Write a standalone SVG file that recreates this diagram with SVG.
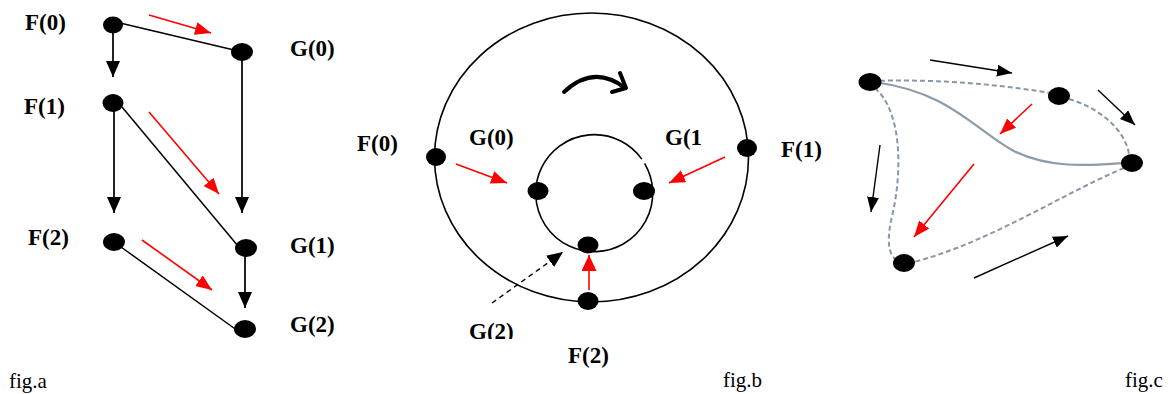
<svg xmlns="http://www.w3.org/2000/svg" width="1172" height="394" viewBox="0 0 1172 394">
<defs>
<style>
.lbl{font-family:"Liberation Serif","Times New Roman",serif;font-weight:bold;font-size:23px;fill:#000}
.cap{font-family:"Liberation Serif","Times New Roman",serif;font-size:21px;fill:#000}
.blk{stroke:#000;stroke-width:1.5;fill:none}
.vb{stroke:#222;stroke-width:2;fill:none}
.red{stroke:#f00;stroke-width:1.6;fill:none}
.ring{stroke:#000;stroke-width:1.6;fill:none}
.dash{stroke:#8797a6;stroke-width:2;stroke-dasharray:5 3;fill:none}
.solid{stroke:#8c9cab;stroke-width:2.2;fill:none}
.node{fill:#000}
</style>
<clipPath id="clipG2"><rect x="440" y="300" width="120" height="39"/></clipPath>
<marker id="hb" markerUnits="userSpaceOnUse" markerWidth="16" markerHeight="14" refX="16" refY="7" orient="auto"><path d="M0,0 L16,7 L0,14 Z" fill="#000"/></marker>
<marker id="hr" markerUnits="userSpaceOnUse" markerWidth="16" markerHeight="13" refX="16" refY="6.5" orient="auto"><path d="M0,0 L16,6.5 L0,13 Z" fill="#f00"/></marker>
<marker id="hr2" markerUnits="userSpaceOnUse" markerWidth="16" markerHeight="15" refX="16" refY="7.5" orient="auto"><path d="M0,0 L16,7.5 L0,15 Z" fill="#f00"/></marker>
<marker id="hc" markerUnits="userSpaceOnUse" markerWidth="15" markerHeight="12" refX="15" refY="6" orient="auto"><path d="M0,0 L15,6 L0,12 Z" fill="#000"/></marker>
</defs>

<!-- fig a connectors -->
<g id="connectors-a">
<line class="blk" x1="120" y1="23" x2="234" y2="50"/>
<line class="vb" x1="113" y1="32" x2="113" y2="77" marker-end="url(#hb)"/>
<line class="vb" x1="242" y1="60" x2="242" y2="213" marker-end="url(#hb)"/>
<line class="vb" x1="114" y1="110" x2="114" y2="213" marker-end="url(#hb)"/>
<line class="blk" x1="122" y1="107" x2="238" y2="246"/>
<line class="vb" x1="245" y1="255" x2="245" y2="308" marker-end="url(#hb)"/>
<line class="blk" x1="121" y1="247" x2="238" y2="331"/>
<line class="red" x1="149" y1="15" x2="211" y2="33" marker-end="url(#hr)"/>
<line class="red" x1="149" y1="112" x2="219" y2="194" marker-end="url(#hr)"/>
<line class="red" x1="142" y1="240" x2="212" y2="290" marker-end="url(#hr)"/>
</g>
<g id="a-F0"><ellipse class="node" cx="113" cy="25" rx="10" ry="8.5"/><text class="lbl" x="25" y="30">F(0)</text></g>
<g id="a-G0"><ellipse class="node" cx="242" cy="52" rx="11" ry="9"/><text class="lbl" x="290" y="56">G(0)</text></g>
<g id="a-F1"><ellipse class="node" cx="113" cy="103" rx="10.5" ry="9"/><text class="lbl" x="24" y="114">F(1)</text></g>
<g id="a-F2"><ellipse class="node" cx="114" cy="242" rx="11" ry="9"/><text class="lbl" x="28" y="245">F(2)</text></g>
<g id="a-G1"><ellipse class="node" cx="246" cy="248" rx="11" ry="9"/><text class="lbl" x="290" y="253">G(1)</text></g>
<g id="a-G2"><ellipse class="node" cx="245" cy="329" rx="11" ry="9"/><text class="lbl" x="290" y="332">G(2)</text></g>
<text class="cap" x="9" y="388">fig.a</text>

<!-- fig b -->
<g id="rings">
<ellipse class="ring" cx="591.5" cy="157.5" rx="157" ry="144.5"/>
<path class="ring" d="M 641.8 159.1 A 58.5 58.5 0 1 0 644.6 163.4"/>
</g>
<g id="connectors-b">
<path d="M 564 92 Q 594 64 625 88" stroke="#000" stroke-width="4" fill="none" stroke-linecap="round"/>
<path d="M 620 73 L 626 88 L 612 92" stroke="#000" stroke-width="4" fill="none" stroke-linecap="round" stroke-linejoin="round"/>
<line class="red" x1="456" y1="164" x2="507" y2="183" marker-end="url(#hr)"/>
<line class="red" x1="725" y1="157" x2="669" y2="183" marker-end="url(#hr)"/>
<line class="red" x1="589" y1="290" x2="589" y2="255" marker-end="url(#hr2)"/>
<line x1="492" y1="303" x2="563" y2="252" stroke="#000" stroke-width="1.4" stroke-dasharray="5 4" marker-end="url(#hb)"/>
</g>
<g id="b-F0"><ellipse class="node" cx="436" cy="157" rx="10" ry="9"/><text class="lbl" x="357" y="151">F(0)</text></g>
<g id="b-F1"><ellipse class="node" cx="747" cy="148" rx="10" ry="9"/><text class="lbl" x="781" y="157">F(1)</text></g>
<g id="b-G0"><ellipse class="node" cx="538" cy="191" rx="10.5" ry="9"/><text class="lbl" x="469" y="145">G(0)</text></g>
<g id="b-G1"><ellipse class="node" cx="644" cy="191" rx="11" ry="9"/><text class="lbl" x="665" y="145">G(1</text></g>
<g id="b-G2"><ellipse class="node" cx="588" cy="245" rx="10.5" ry="8.5"/><text class="lbl" x="469" y="339" clip-path="url(#clipG2)">G(2)</text></g>
<g id="b-F2"><ellipse class="node" cx="588" cy="301" rx="10.5" ry="9"/><text class="lbl" x="568" y="363">F(2)</text></g>
<text class="cap" x="723" y="387">fig.b</text>

<!-- fig c -->
<g id="connectors-c">
<path class="dash" d="M 872 81 Q 960 78 1050 93"/>
<path class="dash" d="M 1069 99 C 1100 108 1125 130 1129 154"/>
<path class="dash" d="M 1124 168 C 1060 195 990 242 914 262"/>
<path class="dash" d="M 875 88 C 902 112 902 170 893 212 C 886 240 888 255 897 260"/>
<path class="solid" d="M 874 82 C 950 92 975 130 1012 150 C 1050 170 1095 165 1124 163"/>
<line x1="930" y1="60" x2="1012" y2="73" stroke="#000" stroke-width="1.4" marker-end="url(#hc)"/>
<line x1="1098" y1="90" x2="1135" y2="125" stroke="#000" stroke-width="1.4" marker-end="url(#hc)"/>
<line x1="880" y1="145" x2="871" y2="212" stroke="#000" stroke-width="1.4" marker-end="url(#hc)"/>
<line x1="974" y1="278" x2="1068" y2="236" stroke="#000" stroke-width="1.4" marker-end="url(#hc)"/>
<line class="red" x1="1032" y1="104" x2="1000" y2="134" marker-end="url(#hr)"/>
<line class="red" x1="974" y1="164" x2="914" y2="237" marker-end="url(#hr)"/>
</g>
<g id="c-n1"><ellipse class="node" cx="870" cy="82" rx="11.5" ry="9"/></g>
<g id="c-n2"><ellipse class="node" cx="1059" cy="96" rx="11" ry="9"/></g>
<g id="c-n3"><ellipse class="node" cx="1132" cy="163" rx="11" ry="9"/></g>
<g id="c-n4"><ellipse class="node" cx="904" cy="263" rx="11" ry="9"/></g>
<text class="cap" x="1125" y="387">fig.c</text>
</svg>
